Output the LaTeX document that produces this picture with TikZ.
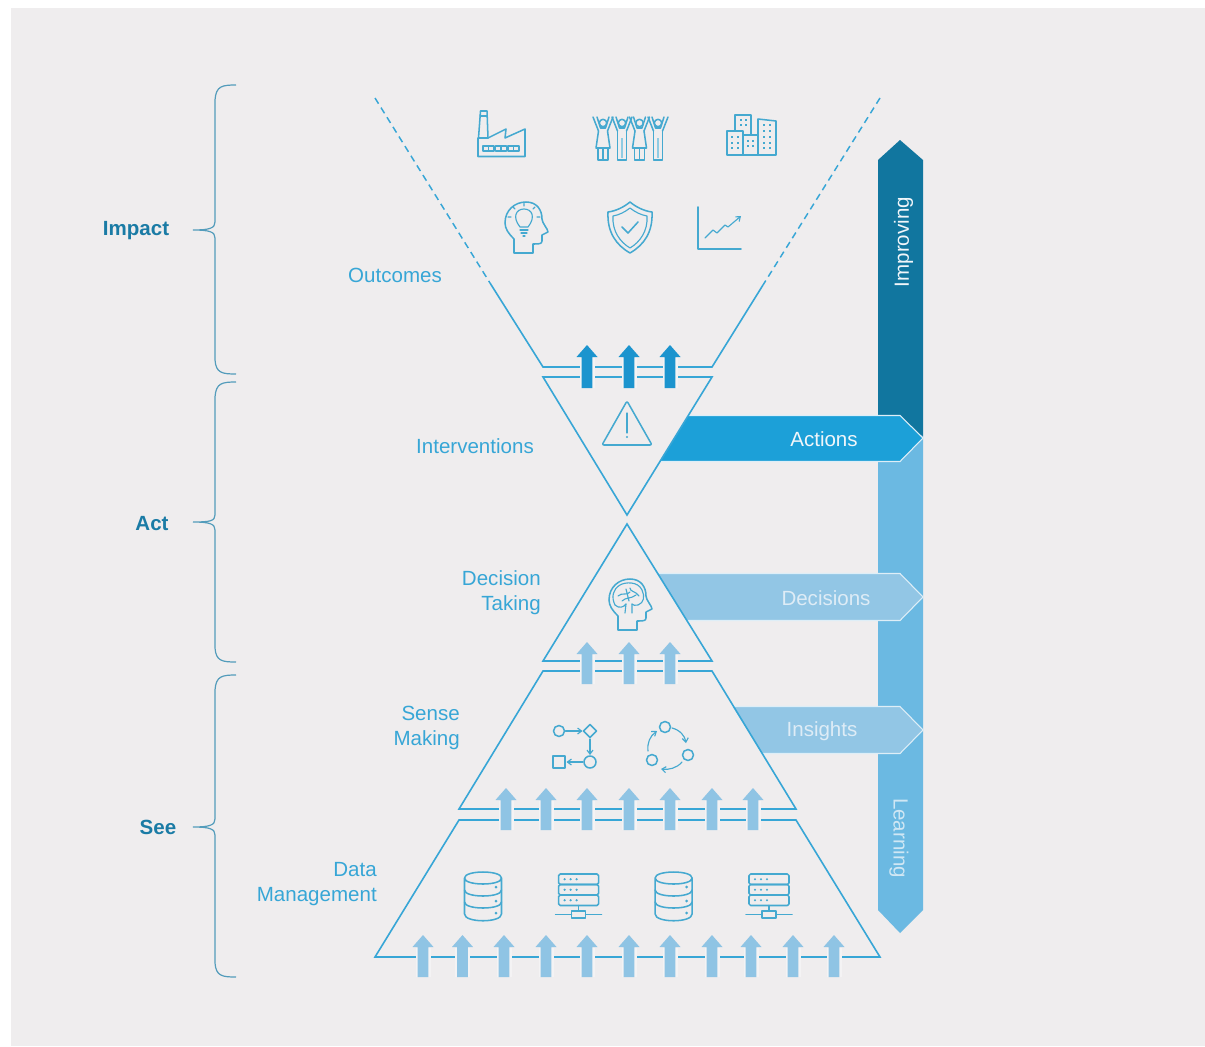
\documentclass[tikz,border=0pt]{standalone}
\usepackage{fontspec}
\setmainfont{Liberation Sans}
\usetikzlibrary{arrows.meta}
\definecolor{pagebg}{HTML}{EFEDEE}
\definecolor{halo}{HTML}{F4F3F4}
\definecolor{linec}{HTML}{37A6D6}
\definecolor{iconc}{HTML}{45A9D0}
\definecolor{teal}{HTML}{1A7BA5}
\definecolor{darkbar}{HTML}{11769F}
\definecolor{lightbar}{HTML}{6BB9E2}
\definecolor{actionc}{HTML}{1CA0D8}
\definecolor{softc}{HTML}{92C6E5}
\definecolor{uparrowc}{HTML}{8FC4E4}
\definecolor{uparrowd}{HTML}{1C94CE}
\definecolor{labelw}{HTML}{F1F6FA}
\tikzset{
  tri/.style={draw=linec,line width=1.2pt,line join=miter},
  dashline/.style={draw=linec,line width=1.1pt,dash pattern=on 5pt off 3.5pt},
  icon/.style={draw=iconc,line width=1.15pt,line join=round,line cap=round},
  thinicon/.style={draw=iconc,line width=.85pt,line join=round,line cap=round},
  brace/.style={draw=teal!75!white,line width=.9pt},
  lab/.style={text=linec,font=\fontsize{15.4pt}{18.8pt}\selectfont,inner sep=0pt,align=right},
  side/.style={text=teal,font=\fontsize{15.4pt}{18pt}\selectfont\bfseries,inner sep=0pt},
  barlab/.style={text=labelw,font=\fontsize{15.4pt}{18pt}\selectfont,inner sep=0pt},
  softlab/.style={text=labelw!80!softc,font=\fontsize{15.4pt}{18pt}\selectfont,inner sep=0pt},
  tagedge/.style={draw=white!70!softc,line width=.8pt},
  smallarrow/.style={-{Straight Barb[length=3pt,width=4.5pt]}}
}
\newcommand{\fatup}[4]{%
  \fill[halo] ({#1-7.5},{#2+13}) rectangle ({#1+7.5},{#3});
  \fill[#4] ({#1-5.3},{#3}) -- ({#1-5.3},{#2+12}) -- ({#1-10.5},{#2+12}) -- ({#1},{#2}) -- ({#1+10.5},{#2+12}) -- ({#1+5.3},{#2+12}) -- ({#1+5.3},{#3}) -- cycle;}
\newcommand{\dbicon}[1]{%
  \draw[icon] (#1-18.5,878) .. controls (#1-18.5,870) and (#1+18.5,870) .. (#1+18.5,878) .. controls (#1+18.5,886) and (#1-18.5,886) .. (#1-18.5,878) -- (#1-18.5,914) .. controls (#1-18.5,923) and (#1+18.5,923) .. (#1+18.5,914) -- (#1+18.5,878);
  \draw[icon] (#1-18.5,890) .. controls (#1-18.5,898) and (#1+18.5,898) .. (#1+18.5,890);
  \draw[icon] (#1-18.5,902) .. controls (#1-18.5,910) and (#1+18.5,910) .. (#1+18.5,902);
  \foreach \yy in {887,901,913} \fill[iconc] (#1+13,\yy) circle (1.5);
}
\newcommand{\srvicon}[1]{%
  \foreach \yy in {874,884.5,895} {
    \draw[icon,rounded corners=1.2pt] (#1-20,\yy) rectangle (#1+20,\yy+10.5);
    \foreach \dd in {-14,-8,-2} \fill[iconc] (#1+\dd,\yy+5.2) circle (1.2);
  }
  \draw[icon] (#1,905.5) -- (#1,911);
  \draw[icon] (#1-23,914.5) -- (#1-7,914.5) (#1+7,914.5) -- (#1+23,914.5);
  \draw[icon] (#1-7,911) rectangle (#1+7,918);
}
\newcommand{\headpath}[2]{%
  (#1-12,#2+25) -- (#1-12,#2+11) .. controls (#1-17,#2+6) and (#1-21,#2+1) .. (#1-21,#2-5)
  .. controls (#1-21,#2-18) and (#1-11,#2-26) .. (#1,#2-26)
  .. controls (#1+11,#2-26) and (#1+16,#2-18) .. (#1+16,#2-9)
  .. controls (#1+16,#2-5) and (#1+22,#2+1) .. (#1+22,#2+4)
  -- (#1+16,#2+7) -- (#1+16,#2+13) .. controls (#1+16,#2+16) and (#1+13,#2+16) .. (#1+7,#2+16) -- (#1+7,#2+25) -- cycle}
\newcommand{\person}[2]{%
  \draw[icon] (#1,123) circle (3.7);
  \draw[icon] (#1-10,117) -- (#1-4.5,131) (#1-6,117) -- (#1-2.5,128) -- (#1+2.5,128) -- (#1+6,117) (#1+10,117) -- (#1+4.5,131);
  \ifnum#2=1
    \draw[icon] (#1-4.5,131) -- (#1-7,148) -- (#1+7,148) -- (#1+4.5,131);
    \draw[icon] (#1-5,148) -- (#1-5,160) -- (#1+5,160) -- (#1+5,148) (#1,148) -- (#1,160);
  \else
    \draw[icon] (#1-4.5,131) -- (#1-4.5,160) -- (#1+4.5,160) -- (#1+4.5,131);
    \draw[iconc!60!white,line width=2.2pt] (#1,138) -- (#1,158);
  \fi
}
\begin{document}
\begin{tikzpicture}[x=.75pt,y=-.75pt]
\useasboundingbox (0,0) rectangle (1205,1046);
\fill[white] (0,0) rectangle (1205,1046);
\fill[pagebg] (11,8) rectangle (1205,1046);

% ---- named corners
\coordinate (fl) at (375,98); \coordinate (flm) at (490,283); \coordinate (flb) at (543,367);
\coordinate (fr) at (880,98); \coordinate (frm) at (763,285); \coordinate (frb) at (712,367);
\coordinate (il) at (543,377); \coordinate (ir) at (712,377); \coordinate (ib) at (627,515);
\coordinate (da) at (627,524); \coordinate (dl) at (543,661); \coordinate (dr) at (712,661);
\coordinate (stl) at (543,671); \coordinate (str) at (712,671); \coordinate (sbl) at (459,809); \coordinate (sbr) at (796,809);
\coordinate (mtl) at (459,820); \coordinate (mtr) at (796,820); \coordinate (mbl) at (375,957); \coordinate (mbr) at (880,957);

% ---- side bars
\fill[lightbar] (878,415) -- (923,436) -- (923,910) -- (900,933) -- (878,910) -- cycle;
\fill[darkbar] (878,160) -- (900,140) -- (923,160) -- (923,436) -- (878,415) -- cycle;

% ---- tag arrows
\fill[softc] (733,707) -- (900,707) -- (923,730) -- (900,753) -- (762,753) -- cycle;
\draw[tagedge] (733,706.5) -- (900,706.5) -- (923,730) -- (900,753.5) -- (762,753.5);
\fill[softc] (658,574) -- (900,574) -- (923,597) -- (900,620) -- (687,620) -- cycle;
\draw[tagedge] (658,573.5) -- (900,573.5) -- (923,597) -- (900,620.5) -- (687,620.5);
\fill[actionc] (688,416) -- (900,416) -- (923,438) -- (900,461) -- (660,461) -- cycle;
\draw[tagedge] (688,415.5) -- (900,415.5) -- (923,438) -- (900,461.5) -- (660,461.5);

% ---- funnel and pyramids
\draw[dashline] (fl) -- (flm);
\draw[dashline] (fr) -- (frm);
\draw[tri] (flm) -- (flb) -- (frb) -- (frm);
\draw[tri] (il) -- (ir) -- (ib) -- cycle;
\draw[tri] (da) -- (dl) -- (dr) -- cycle;
\draw[tri] (sbl) -- (stl) -- (str) -- (sbr) -- cycle;
\draw[tri] (mbl) -- (mtl) -- (mtr) -- (mbr) -- cycle;

% ---- up arrows
\foreach \xx in {587,629,670} \fatup{\xx}{345}{388}{uparrowd};
\foreach \xx in {587,629,670} \fatup{\xx}{642}{684}{uparrowc};
\foreach \xx in {506,546,587,629,670,712,753} \fatup{\xx}{788}{830}{uparrowc};
\foreach \xx in {423,462.5,504,546,587,629,670,712,751,793,834} \fatup{\xx}{935}{977}{uparrowc};

% ---- braces
\draw[brace] (236,85) .. controls (222,85) and (216,86) .. (215,100) -- (215,222) .. controls (215,228) and (210,230) .. (193,230) .. controls (210,230) and (215,232) .. (215,238) -- (215,360) .. controls (216,373) and (222,374) .. (236,374);
\draw[brace] (236,382) .. controls (222,382) and (216,383) .. (215,397) -- (215,515) .. controls (215,521) and (210,522) .. (193,522) .. controls (210,522) and (215,524) .. (215,530) -- (215,648) .. controls (216,661) and (222,662) .. (236,662);
\draw[brace] (236,675) .. controls (222,675) and (216,676) .. (215,690) -- (215,819) .. controls (215,825) and (210,827) .. (193,827) .. controls (210,827) and (215,829) .. (215,835) -- (215,963) .. controls (216,976) and (222,977) .. (236,977);

% ---- text
\node[side] (impact) at (136,230.5) {Impact};
\node[side] (act) at (152,524) {Act};
\node[side] (see) at (158,827) {See};
\node[lab] (outcomes) at (395,275) {Outcomes};
\node[lab] (interv) at (475,446) {Interventions};
\node[lab,anchor=east] (decide) at (541,593) {Decision\\Taking};
\node[lab,anchor=east] (sense) at (460,727.5) {Sense\\Making};
\node[lab,anchor=east] (data) at (377,884.5) {Data\\Management};
\node[barlab] (actions) at (824,439) {Actions};
\node[softlab] (decisions) at (826,598) {Decisions};
\node[softlab] (insights) at (822,731) {Insights};
\node[barlab,rotate=90] (improving) at (903.5,242) {Improving};
\node[text=labelw!75!lightbar,font=\fontsize{15.4pt}{18pt}\selectfont,inner sep=0pt,rotate=-90] (learning) at (899,838) {Learning};

% ---- factory
\draw[icon] (478,138) -- (478,156.5) -- (525,156.5) -- (525,129) -- (505,138) -- (506,129) -- (488,138) -- cycle;
\draw[icon] (478.5,138) -- (480.5,111) -- (487,111) -- (488,138);
\draw[thinicon] (480,116) -- (487.5,116);
\foreach \xx in {483,495.5,508} {
  \draw[thinicon] (\xx,146) rectangle (\xx+11,151);
  \draw[thinicon] (\xx+5.5,146) -- (\xx+5.5,151);
}
% ---- people
\person{603}{1}\person{622}{0}\person{639.5}{1}\person{658}{0}
% ---- buildings
\draw[icon] (735,131) -- (735,115) -- (751,115) -- (751,135);
\draw[icon] (727,155) -- (727,131) -- (743,131) -- (743,155) -- cycle;
\draw[icon] (743,135) -- (758,135) -- (758,155) -- (743,155);
\draw[icon] (758,155) -- (758,119) -- (776,121) -- (776,155) -- cycle;
\foreach \xx in {740,745} \foreach \yy in {119,124} \fill[iconc] (\xx,\yy) rectangle +(2.4,2.4);
\foreach \xx in {731,737} \foreach \yy in {136,142,147} \fill[iconc] (\xx,\yy) rectangle +(2.4,2.4);
\foreach \xx in {747,752} \foreach \yy in {140,145} \fill[iconc] (\xx,\yy) rectangle +(2.4,2.4);
\foreach \xx in {763,769} \foreach \yy in {124,130,136,142,147} \fill[iconc] (\xx,\yy) rectangle +(2.4,2.4);
% ---- head with bulb
\draw[icon] \headpath{526}{228};
\draw[thinicon] (520,227) .. controls (512,217) and (516,209) .. (524,209) .. controls (532,209) and (536,217) .. (528,227) -- cycle;
\draw[thinicon] (520,230) -- (528,230) (521,233) -- (527,233) (523,236) -- (525,236);
\draw[thinicon] (524,203.5) -- (524,206) (513,207) -- (515,209) (535,207) -- (533,209) (508,217) -- (511,217) (537,217) -- (540,217);
% ---- shield
\draw[icon] (630,202) .. controls (636,207) and (644,211) .. (652,212) .. controls (653,232) and (644,245) .. (630,253) .. controls (616,245) and (607,232) .. (608,212) .. controls (616,211) and (624,207) .. (630,202) -- cycle;
\draw[thinicon] (630,208) .. controls (635,212) and (641,215) .. (647,216) .. controls (648,231) and (640,242) .. (630,248) .. controls (620,242) and (612,231) .. (613,216) .. controls (619,215) and (625,212) .. (630,208) -- cycle;
\draw[icon] (622,227) -- (628,233) -- (638,222);
% ---- chart
\draw[icon] (698,207) -- (698,249) -- (741,249);
\draw[thinicon,smallarrow] (705,238) -- (713,230) -- (717,233) -- (725,225) -- (728,227) -- (741,216);
% ---- warning
\draw[icon,rounded corners=1.5pt] (627,401) -- (652,445) -- (602,445) -- cycle;
\draw[thinicon] (627,413) -- (627,433);
\fill[iconc] (627,437) circle (1.2);
% ---- brain head
\draw[icon] \headpath{630}{605};
\draw[thinicon] (615,605) .. controls (611,597) and (613,589) .. (620,585) .. controls (625,582) and (638,581) .. (642,590) .. controls (645,596) and (644,603) .. (638,605) .. controls (635,606) and (633,605) .. (632,604);
\draw[thinicon] (615,605) .. controls (619,609) and (624,607) .. (626,604);
\draw[thinicon] (626,604) -- (625,613) (632,604) -- (632,613);
\draw[thinicon] (618,596) .. controls (622,592) and (627,596) .. (630,592) (622,601) .. controls (626,597) and (631,599) .. (636,595) (630,588) .. controls (630,592) and (636,591) .. (639,596) (626,589) -- (629,601);
% ---- flow icon
\draw[icon] (559,731) circle (5.5);
\draw[icon] (590,724.5) -- (596.5,731) -- (590,737.5) -- (583.5,731) -- cycle;
\draw[icon] (590,762) circle (6);
\draw[icon] (553,756) rectangle (565,768);
\draw[thinicon,smallarrow] (565.5,731) -- (582.5,731);
\draw[thinicon,smallarrow] (590,739) -- (590,755);
\draw[thinicon,smallarrow] (583,762) -- (566.5,762);
% ---- cycle icon
\draw[icon] (665,727) circle (5.5);
\draw[icon] (688,755) circle (5.5);
\draw[icon] (652,760) circle (5.5);
\draw[thinicon,smallarrow] (672,728) .. controls (680,730) and (685,736) .. (686,743);
\draw[thinicon,smallarrow] (682,762) .. controls (677,768) and (669,770) .. (661,769);
\draw[thinicon,smallarrow] (648,751) .. controls (647,743) and (650,736) .. (657,731);
% ---- storage
\dbicon{483}\dbicon{673.6}
\srvicon{578.6}\srvicon{769}
\end{tikzpicture}
\end{document}
